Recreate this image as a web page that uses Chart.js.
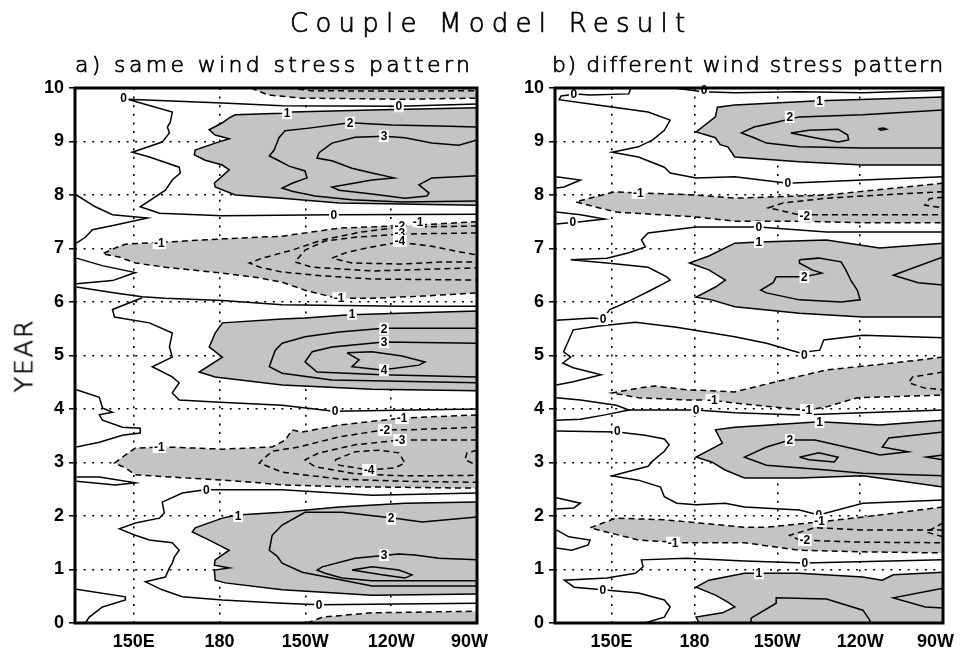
<!DOCTYPE html>
<html>
<head>
<meta charset="utf-8">
<script src="https://cdn.jsdelivr.net/npm/chart.js@4.4.1/dist/chart.umd.min.js"></script>
<style>
  body { margin: 0; background: #fff; width: 977px; height: 655px; position: relative; overflow: hidden; }
  canvas { position: absolute; top: 0; }
  #cA { left: 0; }
  #cB { left: 480px; }
  .txt { position: absolute; white-space: nowrap; font-family: "DejaVu Sans", sans-serif; font-weight: 200;
         line-height: 1; color: #000; -webkit-text-stroke: 0.7px #000; }
  #ylab { transform: rotate(-90deg); transform-origin: 50% 50%; }
</style>
</head>
<body>
<canvas id="cA" width="530" height="655"></canvas>
<canvas id="cB" width="497" height="655"></canvas>
<div class="txt" id="title">Couple Model Result</div>
<div class="txt" id="subA">a) same wind stress pattern</div>
<div class="txt" id="subB">b) different wind stress pattern</div>
<div class="txt" id="ylab">YEAR</div>
<script>
// axes
const xTicks = [129.5, 150, 180, 210, 240, 270];
const xTickLabels = ['', '150E', '180', '150W', '120W', '90W   '];
const yTicks = [0, 1, 2, 3, 4, 5, 6, 7, 8, 9, 10];
const yTickLabels = ['0', '1', '2', '3', '4', '5', '6', '7', '8', '9', '10'];

// ---- panel a contours: [longitude (deg E), year] ----
const aNeg2Top = [[204,10],[212,9.95],[244,9.94],[270,9.95]];
const aNeg1Top = [[191,10],[197,9.87],[209,9.81],[244,9.79],[270,9.81]];
const aZeroTop = [[270,9.70],[242.7,9.66],[202,9.67],[181,9.72],[147.8,9.79],[163.5,9.55],[162.8,9.36],[161.8,9.27],[162.5,9.16],[160,8.99],[149.5,8.80],[155.5,8.71],[165.9,8.52],[166.3,8.41],[163.5,8.28],[161.1,8.09],[152.3,7.78],[159,7.66],[181,7.61],[220,7.63],[270,7.64]];
const aPos1Top = [[270,9.63],[233.3,9.59],[205.4,9.55],[201.9,9.53],[185.5,9.50],[183.4,9.44],[181,9.35],[176.4,9.22],[178.5,9.12],[183.4,9.05],[178.5,8.97],[171.5,8.84],[171.2,8.75],[175,8.65],[181,8.56],[183.4,8.47],[178.2,8.22],[178.5,8.15],[185.5,8.0],[201.9,7.94],[221.8,7.85],[270,7.81]];
const aPos2Top = [[270,9.27],[256.7,9.29],[240.3,9.31],[225.6,9.35],[211.3,9.25],[202.9,9.20],[200.8,9.07],[199.1,8.84],[197.4,8.73],[200.8,8.64],[204.3,8.54],[209.9,8.45],[210.6,8.32],[205.4,8.22],[201.9,8.13],[205.4,8.07],[213.4,7.98],[226.3,7.91],[243.8,7.87],[270,7.89]];
const aPos3Top = [[270,9.03],[263.7,8.93],[254.2,8.97],[244.8,9.07],[237.5,9.10],[227.4,9.08],[219.3,8.97],[214.8,8.79],[214.1,8.69],[219.3,8.64],[226.3,8.50],[233.3,8.41],[241,8.32],[233.3,8.28],[223.9,8.19],[219.3,8.15],[221.8,8.09],[233.3,8.02],[244.8,7.94],[252.5,7.98],[253.2,8.04],[249.7,8.19],[254.2,8.32],[270,8.36]];
const aZeroL1 = [[130,8.0],[136.6,7.78],[142.6,7.63],[154.8,7.57],[143.6,7.44],[135.6,7.35],[133.1,7.21],[130,7.10]];
const aNeg1Mid = [[270,7.50],[249,7.44],[240.3,7.42],[221.8,7.38],[201.9,7.23],[181,7.18],[161.1,7.12],[153,7.10],[147.1,7.08],[143.6,7.01],[139.1,6.90],[145,6.84],[150.6,6.73],[161.1,6.65],[181,6.54],[193.9,6.45],[201.9,6.37],[209.9,6.22],[221,6.07],[233.3,6.07],[250.8,6.11],[270,6.17]];
const aNeg2Mid = [[270,7.42],[243.1,7.40],[229.8,7.31],[215.9,7.16],[205.4,6.97],[195,6.82],[190.4,6.73],[194.2,6.65],[201.9,6.56],[215.9,6.49],[233.3,6.43],[270,6.41]];
const aNeg3Mid = [[270,7.29],[243.1,7.27],[227.4,7.21],[216.9,7.14],[209.9,6.97],[206.4,6.75],[212.4,6.65],[233.3,6.58],[270,6.64]];
const aNeg4Mid = [[219.3,6.82],[224.6,6.93],[233.3,7.03],[243.1,7.12],[254.2,7.04],[264.7,6.93],[270,6.88],[270,6.75],[257.7,6.75],[243.8,6.71],[226.3,6.73],[219.3,6.82]];
const aZeroL4 = [[130,6.82],[139,6.68],[150.6,6.55],[142.6,6.40],[130,6.34]];
const aZeroMid = [[130,6.28],[143.6,6.17],[153,6.10],[161.1,6.07],[181,6.03],[201.9,5.95],[243.8,5.92],[270,5.92]];
const aZeroMid2 = [[153,6.08],[142.6,5.86],[143.3,5.72],[155.5,5.61],[163.5,5.42],[162.5,5.16],[163.5,4.97],[156.5,4.79],[163.5,4.60],[165.9,4.49],[163.5,4.30],[165.9,4.17],[178.5,4.13],[201.9,4.07],[220,3.96],[270,4.0]];
const aPos1Mid = [[270,5.83],[225.6,5.76],[209.9,5.70],[201.9,5.68],[181,5.61],[178.5,5.42],[176.4,5.16],[181,4.97],[172.9,4.69],[178.5,4.60],[201.9,4.45],[233.3,4.37],[270,4.34]];
const aPos2Mid = [[270,5.51],[237.5,5.51],[221.8,5.44],[209.9,5.35],[201.9,5.23],[199.5,5.10],[197.4,4.79],[201.9,4.67],[219.3,4.54],[270,4.49]];
const aPos3Mid = [[270,5.23],[237.5,5.25],[219.3,5.16],[212.4,5.07],[209.9,4.88],[214.1,4.69],[236.8,4.64],[270,4.60]];
const aPos4Mid = [[224.6,5.05],[228.8,4.92],[226.3,4.79],[236.8,4.73],[249.7,4.82],[251.8,4.88],[243.8,4.99],[233.3,5.07],[224.6,5.05]];
const aZeroL2 = [[130,4.36],[138,4.22],[139.1,4.02],[142.6,3.94],[138,3.89],[139.1,3.79],[146.1,3.66],[152.3,3.64],[152.3,3.55],[146.1,3.51],[138,3.38],[130,3.29]];
const aNeg1Low = [[270,3.89],[243.8,3.83],[221.8,3.70],[208.9,3.57],[205.4,3.61],[203,3.42],[198.4,3.29],[181,3.25],[161.1,3.29],[150.6,3.27],[147.1,3.14],[143.3,2.99],[147.1,2.90],[150.6,2.77],[181,2.67],[193.9,2.62],[201.9,2.58],[221.8,2.55],[270,2.52]];
const aNeg2Low = [[270,3.66],[244.8,3.61],[237.5,3.61],[221.8,3.48],[207.8,3.29],[198.4,3.21],[195,3.05],[193.9,2.99],[201.9,2.82],[221.8,2.69],[243.8,2.65],[270,2.63]];
const aNeg3Low = [[270,3.42],[243.1,3.42],[227.4,3.33],[214.8,3.18],[209.9,3.05],[213.4,2.92],[227.4,2.79],[244.8,2.75],[270,2.76]];
const aNeg4Low = [[220.4,3.05],[227.4,3.20],[235.7,3.23],[242.7,3.18],[244.8,2.99],[241.3,2.90],[232.3,2.86],[221.8,2.95],[220.4,3.05]];
const aNeg4LowR = [[270,3.23],[266.5,3.18],[265.8,3.05],[270,2.95]];
const aZeroLow = [[270,2.43],[233.3,2.39],[201.9,2.49],[175,2.49],[167,2.43],[160,2.26],[160.7,2.06],[159,1.96],[150.6,1.87],[145,1.76],[150.6,1.64],[155.5,1.55],[163.5,1.50],[165.9,1.36],[164.2,1.23],[163.5,1.12],[162.5,1.03],[161.1,0.86],[154.1,0.77],[160,0.62],[167,0.49],[181,0.43],[201.9,0.37],[214.8,0.34],[270,0.37]];
const aZeroL3 = [[130,2.73],[138,2.73],[150.6,2.62],[143.6,2.58],[130,2.65]];
const aZeroCorner = [[130,0.63],[147.1,0.49],[147.1,0.43],[139.1,0.30],[134.5,0.11],[133.1,0]];
const aPos1Low = [[270,2.26],[244.8,2.24],[221.8,2.17],[201.9,2.07],[186.2,2.02],[181,1.96],[171.5,1.78],[170.5,1.70],[176.4,1.55],[183.4,1.36],[178.5,1.18],[178.2,1.08],[183.4,1.03],[178.2,0.99],[178.5,0.80],[182,0.75],[201.9,0.62],[233.3,0.52],[270,0.54]];
const aPos2Low = [[270,1.98],[250.8,1.89],[241.3,1.96],[222.8,2.07],[209.9,2.07],[201.9,1.83],[198.4,1.64],[197.4,1.36],[200.1,1.25],[201.9,1.12],[208.9,0.95],[233.3,0.69],[270,0.69]];
const aPos3Low = [[270,1.18],[256.7,1.21],[248.3,1.27],[242.7,1.29],[227.4,1.21],[215.9,1.05],[214.1,0.99],[216.9,0.93],[222.8,0.84],[233.3,0.79],[270,0.79]];
const aPos4Low = [[226.3,0.99],[233.3,1.05],[242.7,0.99],[247.3,0.90],[244.8,0.84],[236.8,0.90],[226.3,0.99]];
const aNeg1Bot = [[210.6,0],[216,0.11],[233.3,0.19],[270,0.22]];

const aLabels = [[146.5,9.81,'0'],[203.6,9.53,'1'],[242.7,9.66,'0'],[225.6,9.35,'2'],[237.5,9.10,'3'],[220,7.63,'0'],[249.4,7.50,'-1'],[243,7.42,'-2'],[243,7.29,'-3'],[243,7.14,'-4'],[159,7.10,'-1'],[221.8,6.07,'-1'],[226.3,5.78,'1'],[237.5,5.50,'2'],[237.5,5.25,'3'],[237.5,4.73,'4'],[220.4,3.96,'0'],[243.8,3.83,'-1'],[237.8,3.61,'-2'],[243.1,3.42,'-3'],[232.3,2.86,'-4'],[159,3.29,'-1'],[175.4,2.49,'0'],[186.5,2.0,'1'],[240,1.95,'2'],[237.5,1.27,'3'],[214.8,0.34,'0']];

// ---- panel b contours ----
const bZeroTopA = [[157,10],[156.2,9.89],[142.2,9.87],[137,9.89],[131.7,9.85],[131,9.78],[142.2,9.70],[163.2,9.55],[171.2,9.40],[169.1,9.21],[164.9,9.03],[159.7,8.90],[150.2,8.80],[159.7,8.71],[169.1,8.52],[171.2,8.41],[180.6,8.32],[194.6,8.34],[213.8,8.22],[241,8.28],[270,8.34]];
const bZeroTopB = [[172.6,10],[183.1,9.93],[194.6,9.91],[218,9.93],[241,9.91],[270,9.96]];
const bPos1Top = [[270,9.83],[225.3,9.76],[194.6,9.68],[188.3,9.64],[187.6,9.46],[180.6,9.18],[187.6,9.07],[189.3,8.94],[192.1,8.90],[194.6,8.71],[218,8.62],[241,8.56],[270,8.56]];
const bPos2Top = [[270,9.59],[241,9.50],[218,9.46],[209.6,9.36],[201.6,9.27],[197,9.16],[201.6,9.07],[206.1,8.97],[218,8.90],[241,8.88],[270,8.88]];
const bPos3Top = [[214.9,9.16],[221.5,9.21],[232,9.23],[235.5,9.12],[235.8,9.03],[232,8.99],[223.6,9.07],[214.9,9.16]];
const bPos3Dot = [[246.5,9.24],[248.5,9.25],[249.5,9.23],[247.5,9.21],[246.5,9.24]];
const bNeg1Top = [[270,8.22],[227.8,8.0],[194.6,7.94],[180.6,8.0],[159.7,8.04],[151,8.06],[137,7.87],[151.7,7.68],[180.6,7.59],[194.6,7.51],[218,7.51],[241,7.48],[270,7.48]];
const bNeg2Top = [[270,8.06],[247.1,8.0],[227.8,7.94],[212,7.85],[206.8,7.76],[218,7.63],[241,7.63],[270,7.63]];
const bNeg3TopR = [[270,7.96],[265.1,7.93],[263.4,7.81],[270,7.76]];
const bZeroMid = [[270,7.31],[227.8,7.31],[203.3,7.40],[194.6,7.40],[180.6,7.40],[163.2,7.29],[160.8,7.16],[162.2,7.03],[156.3,6.92],[148.3,6.82],[135.2,6.79],[148.3,6.73],[163.2,6.65],[170,6.47],[171.2,6.41],[164.2,6.22],[157.2,6.04],[151.7,5.91],[149.3,5.86],[146.9,5.68],[143.3,5.70],[130,5.66]];
const bZeroL1 = [[130,8.34],[138.7,8.28],[132.8,8.15],[130,8.13]];
const bZeroL2 = [[130,7.68],[138.7,7.63],[147.5,7.55],[138.7,7.50],[130,7.46]];
const bPos1Mid = [[270,7.10],[247.1,7.01],[227.8,7.16],[203.3,7.12],[194.6,7.10],[185.2,6.86],[178.2,6.73],[185.2,6.60],[191.2,6.41],[187.6,6.28],[180.6,6.09],[186.2,6.04],[194.6,5.91],[218,5.79],[241,5.72],[270,5.72]];
const bPos2Mid = [[218,6.79],[225,6.82],[233.1,6.75],[234.8,6.60],[236.6,6.41],[239,6.22],[240,6.04],[233.1,6.0],[218,6.04],[206.1,6.17],[204,6.22],[208.5,6.36],[209.6,6.47],[219.8,6.47],[226.1,6.54],[222.6,6.60],[218,6.73],[218,6.79]];
const bPos2MidR = [[270,6.84],[252,6.50],[261,6.36],[270,6.32]];
const bZeroMid2 = [[270,5.33],[241,5.38],[226.8,5.29],[225.4,5.10],[218,5.05],[206.1,5.23],[194.6,5.35],[173.5,5.53],[158.6,5.62],[145.5,5.55],[136.1,5.48],[134,5.23],[132.6,5.07],[135.2,4.97],[132.3,4.86],[136.1,4.77],[146.2,4.64],[136.1,4.51],[130,4.45]];
const bNeg1Mid = [[270,4.97],[252,4.86],[227.8,4.73],[209.6,4.51],[194.6,4.32],[177.1,4.36],[165.6,4.43],[159.7,4.39],[150.1,4.30],[159.7,4.21],[177.1,4.17],[184.9,4.17],[194.6,4.11],[212,4.02],[220.7,3.98],[227.8,4.04],[239,4.21],[270,4.26]];
const bNeg2MidR = [[270,4.69],[259,4.60],[257.6,4.49],[263.5,4.39],[270,4.36]];
const bZeroL3 = [[130,4.21],[138.7,4.17],[151.7,4.07],[156.3,3.98],[147.6,3.89],[138.7,3.81],[130,3.79]];
const bZeroMid3 = [[156.3,3.98],[171.2,3.98],[180.6,3.98],[194.6,3.93],[218,3.89],[241,3.93],[270,3.98]];
const bZeroMid4 = [[130,3.59],[152.1,3.57],[162.1,3.51],[169.1,3.44],[170.8,3.33],[169.1,3.21],[164.9,3.03],[163.2,2.93],[150.2,2.75],[159.7,2.67],[167.7,2.54],[169.1,2.36],[173.6,2.24],[180.6,2.21],[191.1,2.24],[198.1,2.17],[218,2.11],[225,2.02],[241,2.24],[270,2.30]];
const bPos1Mid2 = [[270,3.79],[247.1,3.70],[225.3,3.76],[194.6,3.66],[187.6,3.61],[190.1,3.36],[180.6,3.10],[186.2,3.01],[191.1,2.86],[198.1,2.71],[218,2.71],[241,2.75],[270,2.54]];
const bPos2Mid2 = [[270,3.57],[250.4,3.46],[248,3.29],[257.4,3.20],[247.1,3.14],[240,3.23],[223.6,3.42],[214.5,3.42],[206.1,3.29],[198.1,3.10],[206.1,2.95],[227.8,2.86],[241,2.80],[270,2.75]];
const bPos2Mid2R = [[270,3.14],[264,3.10],[270,3.05]];
const bPos3Mid2 = [[218,3.10],[225,3.18],[232,3.10],[230.6,3.01],[221.5,3.05],[218,3.10]];
const bNeg1Low = [[270,2.17],[241,1.98],[225.3,1.89],[206.1,1.79],[198.1,1.79],[169.1,1.93],[151.6,1.96],[142.2,1.78],[159.7,1.55],[176.1,1.50],[198.1,1.50],[218,1.36],[241,1.33],[270,1.31]];
const bNeg2Low = [[270,1.74],[241,1.74],[223.6,1.78],[214.5,1.64],[218,1.55],[241,1.51],[270,1.50]];
const bNeg3LowR = [[270,1.87],[264,1.70],[270,1.61]];
const bZeroLow = [[270,1.18],[220,1.12],[198.1,1.16],[177.1,1.21],[160.8,1.18],[161.4,1.05],[158.6,0.93],[148.3,0.84],[132.9,0.80],[136.4,0.67],[146.8,0.62],[159.7,0.56],[169.1,0.43],[171.2,0.30],[169.1,0.11],[163.2,0.02],[161.4,0]];
const bZeroL4 = [[130,1.74],[134.5,1.61],[142.2,1.55],[141.5,1.46],[135.6,1.36],[130,1.40]];
const bZeroL5 = [[130,2.34],[138.7,2.24],[136.3,2.15],[130,2.13]];
const bPos1Low = [[270,0.95],[252,0.90],[248,0.80],[241,0.86],[218,0.93],[203.3,0.93],[198.1,0.93],[185.2,0.80],[180.6,0.67],[187.6,0.52],[192.1,0.39],[194.6,0.30],[190.1,0.19],[180.6,0.11],[181.7,0]];
const bPos2Low = [[200.5,0],[200.5,0.09],[209.6,0.37],[209.6,0.47],[227.8,0.45],[241,0.24],[243.4,0.06],[243.8,0]];
const bPos2LowR = [[270,0.65],[252,0.47],[263.6,0.30],[270,0.28]];

const bLabels = [[136.3,9.89,'0'],[183.5,9.96,'0'],[225.3,9.76,'1'],[214.5,9.46,'2'],[213.8,8.22,'0'],[159.7,8.04,'-1'],[220,7.61,'-2'],[136,7.50,'0'],[203.3,7.40,'0'],[203.3,7.12,'1'],[219.8,6.47,'2'],[146.9,5.68,'0'],[219.8,5.01,'0'],[186.5,4.17,'-1'],[220.7,3.98,'-1'],[180.6,3.98,'0'],[225.3,3.76,'1'],[152.1,3.59,'0'],[214.5,3.42,'2'],[225,2.02,'0'],[225.3,1.91,'-1'],[172.3,1.50,'-1'],[220,1.55,'-2'],[220,1.12,'0'],[203.3,0.93,'1'],[146.8,0.62,'0']];

// contour lists: level sign sets the dash, "shade" closes the shaded area (extra corner points)
const panelA = [
  {pts: aNeg2Top, lev: -2}, {pts: aNeg1Top, lev: -1, shade: [[270,10]]},
  {pts: aZeroTop, lev: 0}, {pts: aPos1Top, lev: 1, shade: []}, {pts: aPos2Top, lev: 2}, {pts: aPos3Top, lev: 3},
  {pts: aZeroL1, lev: 0},
  {pts: aNeg1Mid, lev: -1, shade: []}, {pts: aNeg2Mid, lev: -2}, {pts: aNeg3Mid, lev: -3}, {pts: aNeg4Mid, lev: -4},
  {pts: aZeroL4, lev: 0}, {pts: aZeroMid, lev: 0}, {pts: aZeroMid2, lev: 0},
  {pts: aPos1Mid, lev: 1, shade: []}, {pts: aPos2Mid, lev: 2}, {pts: aPos3Mid, lev: 3}, {pts: aPos4Mid, lev: 4},
  {pts: aZeroL2, lev: 0},
  {pts: aNeg1Low, lev: -1, shade: []}, {pts: aNeg2Low, lev: -2}, {pts: aNeg3Low, lev: -3}, {pts: aNeg4Low, lev: -4}, {pts: aNeg4LowR, lev: -4},
  {pts: aZeroLow, lev: 0}, {pts: aZeroL3, lev: 0}, {pts: aZeroCorner, lev: 0},
  {pts: aPos1Low, lev: 1, shade: []}, {pts: aPos2Low, lev: 2}, {pts: aPos3Low, lev: 3}, {pts: aPos4Low, lev: 4},
  {pts: aNeg1Bot, lev: -1, shade: [[270,0]]}
];
const panelB = [
  {pts: bZeroTopA, lev: 0}, {pts: bZeroTopB, lev: 0},
  {pts: bPos1Top, lev: 1, shade: []}, {pts: bPos2Top, lev: 2}, {pts: bPos3Top, lev: 3}, {pts: bPos3Dot, lev: 3},
  {pts: bNeg1Top, lev: -1, shade: []}, {pts: bNeg2Top, lev: -2}, {pts: bNeg3TopR, lev: -3},
  {pts: bZeroMid, lev: 0}, {pts: bZeroL1, lev: 0}, {pts: bZeroL2, lev: 0},
  {pts: bPos1Mid, lev: 1, shade: []}, {pts: bPos2Mid, lev: 2}, {pts: bPos2MidR, lev: 2},
  {pts: bZeroMid2, lev: 0},
  {pts: bNeg1Mid, lev: -1, shade: []}, {pts: bNeg2MidR, lev: -2},
  {pts: bZeroL3, lev: 0}, {pts: bZeroMid3, lev: 0}, {pts: bZeroMid4, lev: 0},
  {pts: bPos1Mid2, lev: 1, shade: []}, {pts: bPos2Mid2, lev: 2}, {pts: bPos2Mid2R, lev: 2}, {pts: bPos3Mid2, lev: 3},
  {pts: bNeg1Low, lev: -1, shade: []}, {pts: bNeg2Low, lev: -2}, {pts: bNeg3LowR, lev: -3},
  {pts: bZeroLow, lev: 0}, {pts: bZeroL4, lev: 0}, {pts: bZeroL5, lev: 0},
  {pts: bPos1Low, lev: 1, shade: [[270,0]]}, {pts: bPos2Low, lev: 2}, {pts: bPos2LowR, lev: 2}
];

const GRAY = '#c4c4c4';
Chart.defaults.font.family = '"Liberation Sans", Arial, sans-serif';

function buildDatasets(panel) {
  const lines = panel.map(c => ({
    data: c.pts, fill: false, borderColor: '#000', borderWidth: 1.5,
    borderDash: c.lev < 0 ? [6, 4] : [], pointRadius: 0, tension: 0
  }));
  const shades = panel.filter(c => c.shade).map(c => ({
    data: c.pts.concat(c.shade), fill: 'shape', backgroundColor: GRAY,
    borderColor: 'rgba(0,0,0,0)', borderWidth: 0, pointRadius: 0, tension: 0
  }));
  return lines.concat(shades);
}

function labelPlugin(items) {
  return {
    id: 'contourLabels',
    afterDraw(chart) {
      const {ctx, chartArea: a, scales: {x, y}} = chart;
      ctx.save();
      ctx.font = 'bold 12px "Liberation Sans"';
      ctx.textAlign = 'center';
      ctx.textBaseline = 'middle';
      items.forEach(([lon, yr, t]) => {
        const px = x.getPixelForValue(lon), py = y.getPixelForValue(yr);
        const w = ctx.measureText(t).width + 3;
        ctx.fillStyle = '#fff';
        ctx.fillRect(px - w / 2, py - 6, w, 12);
        ctx.fillStyle = '#000';
        ctx.fillText(t, px, py + 0.5);
      });
      // frame
      ctx.lineWidth = 3;
      ctx.strokeStyle = '#000';
      ctx.strokeRect(a.left, a.top, a.right - a.left, a.bottom - a.top);
      ctx.restore();
    }
  };
}

function makeChart(id, panel, labels, yWidth, padRight) {
  new Chart(document.getElementById(id), {
    type: 'line',
    data: { datasets: buildDatasets(panel) },
    plugins: [labelPlugin(labels)],
    options: {
      responsive: false,
      animation: false,
      devicePixelRatio: 1,
      events: [],
      layout: { padding: { top: 88, right: padRight, bottom: 0, left: 0 } },
      plugins: {
        legend: { display: false },
        tooltip: { enabled: false },
        filler: { drawTime: 'beforeDatasetsDraw' }
      },
      scales: {
        x: {
          type: 'linear', min: 129.5, max: 270, z: 1,
          afterBuildTicks: s => { s.ticks = xTicks.map(v => ({ value: v })); },
          afterFit: s => { s.height = 32; },
          grid: { color: '#000', lineWidth: 1.6, drawTicks: false },
          border: { display: false, dash: [2, 6.6] },
          ticks: {
            autoSkip: false, maxRotation: 0, minRotation: 0, padding: 8, color: '#000',
            font: { size: 18, weight: 'bold' },
            callback: v => xTickLabels[xTicks.indexOf(v)]
          }
        },
        y: {
          type: 'linear', min: 0, max: 10, z: 1,
          afterBuildTicks: s => { s.ticks = yTicks.map(v => ({ value: v })); },
          afterFit: s => { s.width = yWidth; },
          grid: { color: '#000', lineWidth: 1.6, drawTicks: true, tickLength: 6, tickColor: '#000', tickWidth: 1.5, tickBorderDash: [] },
          border: { display: false, dash: [2, 6.6] },
          ticks: {
            autoSkip: false, padding: 5, color: '#000',
            font: { size: 18, weight: 'bold' },
            callback: v => yTickLabels[yTicks.indexOf(v)]
          }
        }
      }
    }
  });
}

makeChart('cA', panelA, aLabels, 75, 53);
makeChart('cB', panelB, bLabels, 75, 20);

// titles: stretch text between the measured left/right ends
function fitText(id, x0, x1, base, size) {
  const el = document.getElementById(id);
  el.style.fontSize = size + 'px';
  el.style.left = x0 + 'px';
  el.style.top = (base - 0.846 * size) + 'px';
  const n = el.textContent.length;
  const w = el.offsetWidth;
  el.style.letterSpacing = ((x1 - x0 - w) / (n - 1)) + 'px';
}
fitText('title', 290, 685, 32, 26);
fitText('subA', 75, 470, 73, 22);
fitText('subB', 552, 943, 73, 22);

const yl = document.getElementById('ylab');
yl.style.fontSize = '25px';
yl.style.letterSpacing = '2px';
yl.style.left = (24 - yl.offsetWidth / 2) + 'px';
yl.style.top = (355 - yl.offsetHeight / 2) + 'px';
</script>
</body>
</html>
